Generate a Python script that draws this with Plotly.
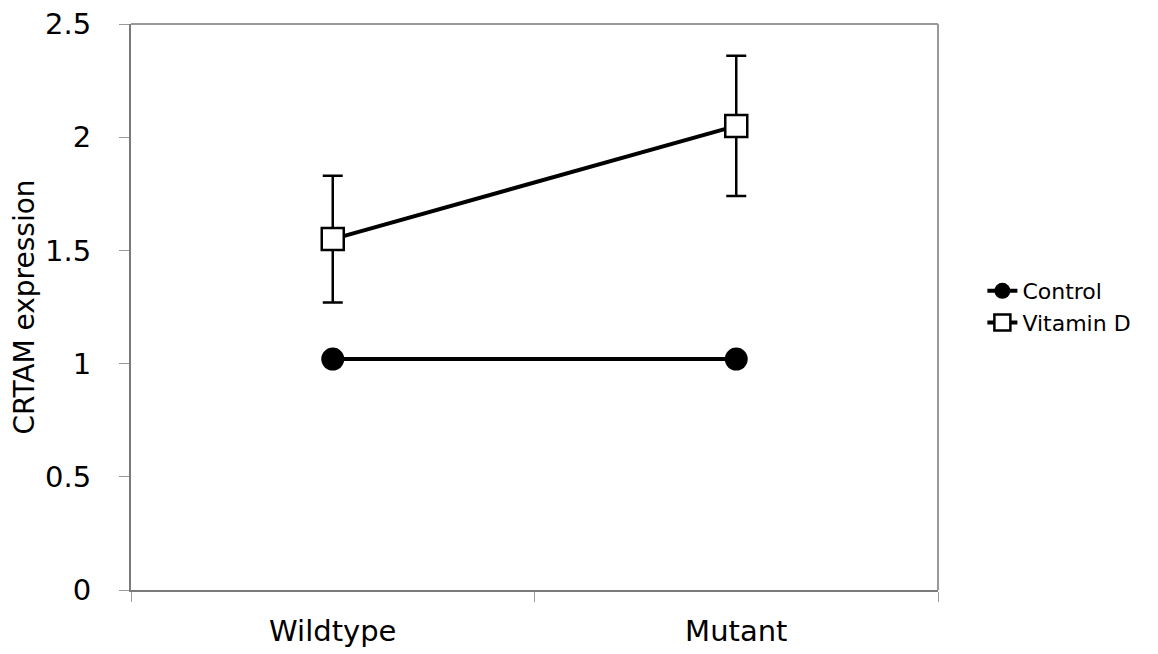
import plotly.graph_objects as go

categories = ["Wildtype", "Mutant"]
control = [1.02, 1.02]
vitamin_d = [1.55, 2.05]
vitamin_d_err = [0.28, 0.31]
y_ticks = [0, 0.5, 1, 1.5, 2, 2.5]
y_tick_labels = ["0", "0.5", "1", "1.5", "2", "2.5"]

FONT = "DejaVu Sans, Verdana, sans-serif"

fig = go.Figure()
fig.add_trace(go.Scatter(
    x=categories, y=control, name="Control", mode="lines+markers",
    line=dict(color="black", width=4),
    marker=dict(symbol="circle", size=23, color="black"),
))
fig.add_trace(go.Scatter(
    x=categories, y=vitamin_d, name="Vitamin D", mode="lines+markers",
    line=dict(color="black", width=4),
    marker=dict(symbol="square", size=22, color="white",
                line=dict(color="black", width=2.5)),
    error_y=dict(type="data", array=vitamin_d_err, visible=True,
                 color="black", thickness=2.5, width=10),
))

fig.update_layout(
    width=1150, height=646,
    margin=dict(l=123, r=220, t=16, b=64),
    paper_bgcolor="white", plot_bgcolor="white",
    font=dict(family=FONT, color="black"),
    showlegend=True,
    legend=dict(x=1.055, y=0.5, xanchor="left", yanchor="middle",
                font=dict(size=22, family=FONT), tracegroupgap=0,
                bgcolor="rgba(0,0,0,0)"),
    shapes=[
        dict(type="line", xref="paper", yref="paper", x0=0, x1=1, y0=1, y1=1,
             line=dict(color="#9a9a9a", width=2)),
        dict(type="line", xref="paper", yref="paper", x0=1, x1=1, y0=0, y1=1,
             line=dict(color="#9a9a9a", width=2)),
    ],
)
fig.update_xaxes(
    type="category", range=[-0.5, 1.5], tickson="boundaries",
    showline=True, linecolor="#7a7a7a", linewidth=2,
    ticks="outside", ticklen=10, tickcolor="#9a9a9a", tickwidth=1,
    showgrid=False, zeroline=False, automargin=False,
    tickfont=dict(size=29, family=FONT), ticklabelstandoff=14,
    ticklabeloverflow="allow",
)
fig.update_yaxes(
    range=[0, 2.5], tickvals=y_ticks, ticktext=y_tick_labels,
    showline=True, linecolor="#7a7a7a", linewidth=2,
    ticks="outside", ticklen=10, tickcolor="#9a9a9a", tickwidth=1,
    showgrid=False, zeroline=False, automargin=False,
    tickfont=dict(size=29, family=FONT), ticklabelstandoff=22,
    ticklabeloverflow="allow",
    title=dict(text="CRTAM expression", font=dict(size=28, family=FONT), standoff=4),
)

fig.write_html("out.html")
